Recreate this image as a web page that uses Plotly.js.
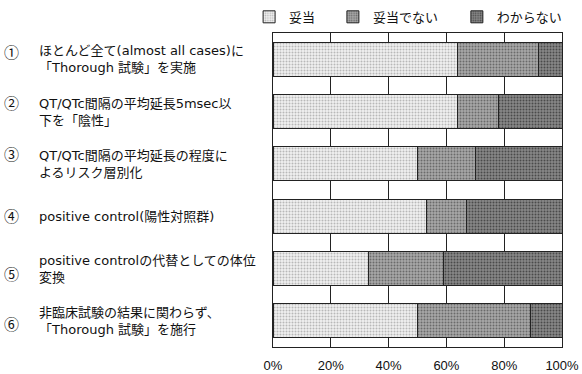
<!DOCTYPE html>
<html>
<head>
<meta charset="utf-8">
<script src="https://cdn.plot.ly/plotly-3.0.1.min.js"></script>
<style>
  html, body { margin: 0; padding: 0; background: #fff; }
  #chart { width: 582px; height: 374px; }
</style>
</head>
<body>
<div id="chart"></div>
<script>
// Survey items (top to bottom)
const itemNumbers = ['①', '②', '③', '④', '⑤', '⑥'];
const itemLabels = [
  'ほとんど全て(almost all cases)に<br>「Thorough 試験」を実施',
  'QT/QTc間隔の平均延長5msec以<br>下を「陰性」',
  'QT/QTc間隔の平均延長の程度に<br>よるリスク層別化',
  'positive control(陽性対照群)',
  'positive controlの代替としての体位<br>変換',
  '非臨床試験の結果に関わらず、<br>「Thorough 試験」を施行'
];
const seriesNames = ['妥当', '妥当でない', 'わからない'];
// Share of answers (%)
const appropriate    = [64, 64, 50, 53, 33, 50];
const notAppropriate = [28, 14, 20, 14, 26, 39];
const unknown        = [ 8, 22, 30, 33, 41, 11];
const xTickValues = [0, 20, 40, 60, 80, 100];
const xTickLabels = ['0%', '20%', '40%', '60%', '80%', '100%'];

const FONT = '"DejaVu Sans", "Noto Sans CJK JP", sans-serif';
const CJK = '"Noto Sans CJK JP", sans-serif';
const fills = [
  { bg: '#f1f1f1', fg: '#b8b8b8' },
  { bg: '#a8a8a8', fg: '#6a6a6a' },
  { bg: '#888888', fg: '#4a4a4a' }
];
const seriesValues = [appropriate, notAppropriate, unknown];
const legendIds = ['legend', 'legend2', 'legend3'];
const legendX = [0.428, 0.572, 0.785];
// vertical nudge (px) of each circled number next to its label
const numberNudge = [8, 9, 10, 1, -5, -3];

const traces = seriesValues.map((vals, i) => ({
  type: 'bar',
  orientation: 'h',
  name: seriesNames[i],
  legend: legendIds[i],
  x: vals,
  y: itemLabels,
  width: 0.65,
  marker: {
    color: fills[i].bg,
    line: { color: '#222', width: 1 },
    pattern: { shape: '.', size: 3, solidity: 0.35, fgcolor: fills[i].fg, bgcolor: fills[i].bg }
  },
  hoverinfo: 'x+name'
}));

const annotations = [];
itemLabels.forEach((lab, i) => {
  annotations.push({
    xref: 'paper', yref: 'y', x: -0.905, y: lab, yshift: numberNudge[i],
    text: itemNumbers[i], showarrow: false, xanchor: 'center', yanchor: 'middle',
    font: { family: CJK, size: 15, color: '#111' }
  });
  annotations.push({
    xref: 'paper', yref: 'y', x: -0.815, y: lab,
    text: lab, showarrow: false, xanchor: 'left', yanchor: 'middle', align: 'left',
    font: { family: FONT, size: 13, color: '#111' }
  });
});

const legendBase = {
  orientation: 'h', xref: 'container', yref: 'container',
  y: 0.995, yanchor: 'top', xanchor: 'left',
  font: { family: CJK, size: 13, color: '#111' },
  itemwidth: 30, bgcolor: 'rgba(0,0,0,0)'
};

const layout = {
  width: 582, height: 374,
  margin: { l: 273, r: 20, t: 33, b: 27 },
  paper_bgcolor: '#fff', plot_bgcolor: '#fff',
  barmode: 'stack',
  bargap: 0.35,
  showlegend: true,
  legend:  Object.assign({}, legendBase, { x: legendX[0] }),
  legend2: Object.assign({}, legendBase, { x: legendX[1] }),
  legend3: Object.assign({}, legendBase, { x: legendX[2] }),
  xaxis: {
    range: [0, 100], tickvals: xTickValues, ticktext: xTickLabels,
    showgrid: true, gridcolor: '#222', gridwidth: 1,
    showline: true, linecolor: '#222', mirror: true, zeroline: false,
    ticks: '', tickfont: { family: '"Liberation Sans", Arial, sans-serif', size: 13, color: '#111' },
    ticklabelstandoff: 6, fixedrange: true
  },
  yaxis: {
    type: 'category', autorange: 'reversed', showticklabels: false,
    showgrid: false, showline: true, linecolor: '#222', mirror: true,
    ticks: '', fixedrange: true
  },
  annotations: annotations
};

Plotly.newPlot('chart', traces, layout, { displayModeBar: false, staticPlot: true });
</script>
</body>
</html>
